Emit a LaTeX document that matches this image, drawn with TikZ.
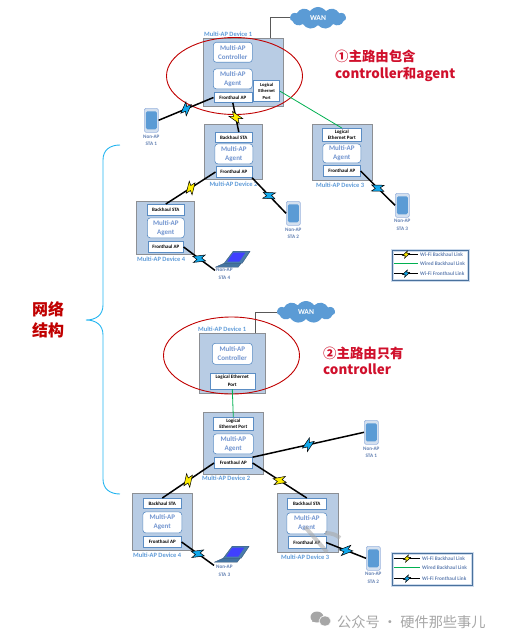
\documentclass[tikz,border=0pt]{standalone}
\usepackage{fontspec}
\setmainfont{Carlito}
\newfontfamily\cjk{Noto Sans CJK SC}
\usepackage{tikz}
\usetikzlibrary{positioning,shapes.geometric,shapes.symbols}

\definecolor{devfill}{HTML}{B8CCE4}
\definecolor{devline}{HTML}{8C8F94}
\definecolor{boxline}{HTML}{5B8DC4}
\definecolor{softblue}{HTML}{7295D0}
\definecolor{labelblue}{HTML}{5F9BD8}
\definecolor{cloudblue}{HTML}{5B9BD5}
\definecolor{ringred}{HTML}{C00000}
\definecolor{notered}{HTML}{D0102C}
\definecolor{wiregray}{HTML}{595959}
\definecolor{wiredgreen}{HTML}{00B050}
\definecolor{boltblue}{HTML}{12A9EC}
\definecolor{boltyellow}{HTML}{FFEE00}
\definecolor{bracecyan}{HTML}{22B4F0}
\definecolor{markgray}{HTML}{A6A6A6}

\tikzset{
  bolt/.pic={
    \filldraw[fill=#1, draw=black, line width=0.5pt, line join=miter]
      (-6.5,-2) -- (2.5,6.5) -- (1.5,2) -- (6.5,2) -- (-2.5,-6.5) -- (-1.5,-2) -- cycle;
  },
}
% wireless link with a bolt half way
\newcommand{\wifilink}[4][1]{
  \draw[radio] (#2) -- (#3) pic[midway, sloped, scale=#1] {bolt=#4};
}

\begin{document}
\begin{tikzpicture}[
  x=1pt, y=1pt,
  device/.style={rectangle, draw=devline, line width=1pt, fill=devfill, inner sep=0pt},
  rolebox/.style={rectangle, draw=boxline, line width=0.6pt, rounded corners=3pt, fill=white, inner sep=0pt,
                  align=center, font=\fontsize{7}{9.2}\selectfont\bfseries, text=softblue},
  portbox/.style={rectangle, draw=boxline, line width=0.6pt, fill=white, inner sep=0pt,
                  align=center, font=\fontsize{5}{6.6}\selectfont\bfseries},
  devlabel/.style={inner sep=0pt, font=\fontsize{6.5}{7}\selectfont\bfseries, text=labelblue},
  stalabel/.style={inner sep=0pt, align=center, font=\fontsize{5.2}{7.6}\selectfont\bfseries, text=softblue!85!black},
  phone/.style={rectangle, draw=softblue!70, line width=0.6pt, rounded corners=1.5pt, fill=devfill!60, inner sep=0pt,
                minimum width=14pt, minimum height=24pt,
                path picture={\fill[cloudblue] ([shift={(1.5pt,3pt)}]path picture bounding box.south west)
                  rectangle ([shift={(-1.5pt,-3pt)}]path picture bounding box.north east);}},
  laptop/.style={rectangle, inner sep=0pt, minimum width=35pt, minimum height=20pt,
                 path picture={
                   \filldraw[fill=cloudblue!80!black, draw=boxline!60!black, line width=0.3pt]
                     ([shift={(9pt,7pt)}]path picture bounding box.south west) -- ++(9,12) -- ++(17,0) -- ++(-8,-12) -- cycle;
                   \fill[blue!75!white]
                     ([shift={(12pt,8.5pt)}]path picture bounding box.south west) -- ++(6,9) -- ++(12,0) -- ++(-6,-9) -- cycle;
                   \filldraw[fill=cloudblue!75!black, draw=boxline!60!black, line width=0.3pt]
                     ([shift={(0pt,3pt)}]path picture bounding box.south west) -- ++(9,4) -- ++(17,0) -- ++(-3,-4) -- cycle;}},
  wan/.style={cloud, cloud puffs=11, cloud puff arc=110, aspect=2.6, fill=cloudblue, inner sep=0pt,
              minimum width=56pt, minimum height=22pt, text=white, font=\fontsize{7.5}{9}\selectfont\bfseries},
  ring/.style={ellipse, draw=ringred, line width=0.9pt, inner sep=0pt, minimum width=136pt, minimum height=77pt},
  note/.style={inner sep=0pt, align=left, text=notered, font=\fontsize{13.4}{16.5}\cjk\bfseries},
  legendbox/.style={rectangle, draw=boxline!80!black, line width=1pt, inner sep=0pt,
                    preaction={draw=devfill!70, line width=2.6pt}},
  legendtext/.style={inner sep=0pt, font=\fontsize{5.3}{6}\selectfont\bfseries, text=softblue!85!black},
  radio/.style={black, line width=1.5pt},
  wire/.style={wiregray, line width=1pt},
  wired/.style={wiredgreen, line width=0.8pt},
]
  \useasboundingbox (0,0) rectangle (504,-642);

  % Upper network: devices
  \node[device, minimum width=80pt, minimum height=68pt, anchor=north west] (devA1) at (203,-38) {};
  \node[device, minimum width=58pt, minimum height=55pt, below right=86pt and 1pt of devA1.north west] (devA2) {};
  \node[device, minimum width=60pt, minimum height=56pt, below right=86pt and 109pt of devA1.north west] (devA3) {};
  \node[device, minimum width=58pt, minimum height=53pt, below right=163pt and -67pt of devA1.north west] (devA4) {};

  \node[devlabel, above right=1.5pt and 1pt of devA1.north west] {Multi-AP Device 1};
  \node[devlabel, below=2pt of devA2.south] {Multi-AP Device 2};
  \node[devlabel, below right=2pt and 4pt of devA3.south west] {Multi-AP Device 3};
  \node[devlabel, below right=2pt and 1pt of devA4.south west] {Multi-AP Device 4};

  % Upper network: boxes inside the devices
  \node[rolebox, minimum width=39pt, minimum height=20pt, below right=4pt and 10pt of devA1.north west] (ctlA1) {Multi-AP\\Controller};
  \node[rolebox, minimum width=39pt, minimum height=20pt, below=6pt of ctlA1] (agtA1) {Multi-AP\\Agent};
  \node[portbox, minimum width=38pt, minimum height=10pt, below=3pt of agtA1] (fhA1) {Fronthaul AP};
  \node[portbox, minimum width=26pt, minimum height=21pt, font=\fontsize{4.6}{6.6}\selectfont\bfseries,
        above left=5pt and 4pt of devA1.south east] (ethA1) {Logical\\Ethernet\\Port};

  \node[portbox, minimum width=37pt, minimum height=10pt, below right=8pt and 11pt of devA2.north west] (bhA2) {Backhaul STA};
  \node[rolebox, minimum width=38pt, minimum height=20pt, below=1pt of bhA2] (agtA2) {Multi-AP\\Agent};
  \node[portbox, minimum width=36pt, minimum height=11pt, below=2pt of agtA2] (fhA2) {Fronthaul AP};

  \node[portbox, minimum width=39pt, minimum height=13pt, below right=4pt and 10pt of devA3.north west] (ethA3) {Logical\\Ethernet Port};
  \node[rolebox, minimum width=38pt, minimum height=19pt, below=2pt of ethA3] (agtA3) {Multi-AP\\Agent};
  \node[portbox, minimum width=37pt, minimum height=11pt, below=2pt of agtA3] (fhA3) {Fronthaul AP};

  \node[portbox, minimum width=37pt, minimum height=11pt, below right=3pt and 11pt of devA4.north west] (bhA4) {Backhaul STA};
  \node[rolebox, minimum width=37pt, minimum height=20pt, below=2pt of bhA4] (agtA4) {Multi-AP\\Agent};
  \node[portbox, minimum width=35pt, minimum height=11pt, below=3pt of agtA4] (fhA4) {Fronthaul AP};

  % Upper network: stations
  \node[phone, below right=70pt and -59pt of devA1.north west] (staA1) {};
  \node[stalabel, below=2pt of staA1] {Non-AP\\STA 1};
  \node[phone, below right=163pt and 83pt of devA1.north west] (staA2) {};
  \node[stalabel, below=2pt of staA2] {Non-AP\\STA 2};
  \node[phone, below right=155pt and 192pt of devA1.north west] (staA3) {};
  \node[stalabel, below=1.5pt of staA3] {Non-AP\\STA 3};
  \node[laptop, below right=212pt and 12pt of devA1.north west] (staA4) {};
  \node[stalabel, below right=-2pt and 1pt of staA4.south west] {Non-AP\\STA 4};

  % Upper network: cloud and ring
  \node[wan, xshift=34pt, yshift=20pt] (wanA) at (devA1.north east) {WAN};
  \draw[wire] ([xshift=27pt]devA1.north) |- (wanA.west);
  \node[ring, xshift=-9pt, yshift=-3.5pt] (ringA) at (devA1.center) {};

  % Upper network: links
  \draw[wired] (ethA1.east) -- (ethA3.north);
  \wifilink{fhA1.west}{staA1.east}{boltblue}
  \wifilink{fhA1.south}{[xshift=5pt]bhA2.north}{boltyellow}
  \wifilink{fhA2.west}{bhA4.north}{boltyellow}
  \wifilink{fhA2.south east}{staA2.west}{boltblue}
  \wifilink{fhA3.east}{staA3.west}{boltblue}
  \wifilink{fhA4.east}{staA4.south west}{boltblue}

  % Upper legend
  \node[legendbox, minimum width=76pt, minimum height=30pt, anchor=north west] (legA) at (392,-250) {};
  \node[legendtext, below right=2.5pt and 28pt of legA.north west] (legtA1) {Wi-Fi Backhaul Link};
  \node[legendtext, below right=11.5pt and 28pt of legA.north west] (legtA2) {Wired Backhaul Link};
  \node[legendtext, below right=21.5pt and 28pt of legA.north west] (legtA3) {Wi-Fi Fronthaul Link};
  \coordinate[left=26pt of legtA1.west] (legsA1);
  \coordinate[left=26pt of legtA2.west] (legsA2);
  \coordinate[left=26pt of legtA3.west] (legsA3);
  \wifilink[0.55]{legsA1}{[xshift=-2pt]legtA1.west}{boltyellow}
  \draw[wired] (legsA2) -- ([xshift=-2pt]legtA2.west);
  \wifilink[0.55]{legsA3}{[xshift=-2pt]legtA3.west}{boltblue}

  % Lower network: devices
  \node[device, minimum width=66pt, minimum height=60pt, below right=295pt and -4pt of devA1.north west] (devB1) {};
  \node[device, minimum width=60pt, minimum height=62pt, below right=79pt and 4pt of devB1.north west] (devB2) {};
  \node[device, minimum width=60pt, minimum height=57pt, below right=160pt and -67pt of devB1.north west] (devB4) {};
  \node[device, minimum width=61pt, minimum height=59pt, below right=160pt and 78pt of devB1.north west] (devB3) {};

  \node[devlabel, above right=1.5pt and -1pt of devB1.north west] {Multi-AP Device 1};
  \node[devlabel, below right=1pt and -1pt of devB2.south west] {Multi-AP Device 2};
  \node[devlabel, below right=2pt and 1pt of devB4.south west] {Multi-AP Device 4};
  \node[devlabel, below right=2pt and 4pt of devB3.south west] {Multi-AP Device 3};

  % Lower network: boxes inside the devices
  \node[rolebox, minimum width=40pt, minimum height=21pt, below right=10pt and 13pt of devB1.north west] (ctlB1) {Multi-AP\\Controller};
  \node[portbox, minimum width=45pt, minimum height=16pt, font=\fontsize{5}{8}\selectfont\bfseries, below=8pt of ctlB1] (ethB1) {Logical Ethernet\\Port};

  \node[portbox, minimum width=40pt, minimum height=13pt, below right=5pt and 10pt of devB2.north west] (ethB2) {Logical\\Ethernet Port};
  \node[rolebox, minimum width=40pt, minimum height=20pt, below=3pt of ethB2] (agtB2) {Multi-AP\\Agent};
  \node[portbox, minimum width=38pt, minimum height=11pt, below=3pt of agtB2] (fhB2) {Fronthaul AP};

  \node[portbox, minimum width=38pt, minimum height=10pt, below right=5pt and 11pt of devB4.north west] (bhB4) {Backhaul STA};
  \node[rolebox, minimum width=39pt, minimum height=21pt, below=3pt of bhB4] (agtB4) {Multi-AP\\Agent};
  \node[portbox, minimum width=38pt, minimum height=11pt, below=3pt of agtB4] (fhB4) {Fronthaul AP};

  \node[portbox, minimum width=39pt, minimum height=11pt, below right=5pt and 10pt of devB3.north west] (bhB3) {Backhaul STA};
  \node[rolebox, minimum width=40pt, minimum height=21pt, below=3pt of bhB3] (agtB3) {Multi-AP\\Agent};
  \node[portbox, minimum width=38pt, minimum height=12pt, below=2pt of agtB3] (fhB3) {Fronthaul AP};

  % Lower network: stations
  \node[phone, below right=87pt and 165pt of devB1.north west] (staB1) {};
  \node[stalabel, below=2pt of staB1] {Non-AP\\STA 1};
  \node[phone, below right=213pt and 167pt of devB1.north west] (staB2) {};
  \node[stalabel, below=1.5pt of staB2] {Non-AP\\STA 2};
  \node[laptop, below right=212pt and 15pt of devB1.north west] (staB3) {};
  \node[stalabel, below right=0pt and 2pt of staB3.south west] {Non-AP\\STA 3};

  % Lower network: cloud and ring
  \node[wan, minimum width=58pt, xshift=40pt, yshift=21pt] (wanB) at (devB1.north east) {WAN};
  \draw[wire] ([xshift=23pt]devB1.north) |- (wanB.west);
  \node[ring, xshift=-1pt, yshift=8pt] (ringB) at (devB1.center) {};

  % Lower network: links
  \draw[wired] (ethB1.south) -- (ethB2.north);
  \wifilink{fhB2.north east}{staB1.west}{boltblue}
  \wifilink{fhB2.west}{bhB4.north}{boltyellow}
  \wifilink{fhB2.east}{bhB3.north}{boltyellow}
  \wifilink{fhB4.east}{staB3.south west}{boltblue}
  \wifilink{fhB3.east}{staB2.west}{boltblue}

  % Lower legend
  \node[legendbox, minimum width=80pt, minimum height=32pt, anchor=north west] (legB) at (392,-553) {};
  \node[legendtext, below right=3.5pt and 30pt of legB.north west] (legtB1) {Wi-Fi Backhaul Link};
  \node[legendtext, below right=12.5pt and 30pt of legB.north west] (legtB2) {Wired Backhaul Link};
  \node[legendtext, below right=23.5pt and 30pt of legB.north west] (legtB3) {Wi-Fi Fronthaul Link};
  \coordinate[left=28pt of legtB1.west] (legsB1);
  \coordinate[left=28pt of legtB2.west] (legsB2);
  \coordinate[left=28pt of legtB3.west] (legsB3);
  \wifilink[0.55]{legsB1}{[xshift=-2pt]legtB1.west}{boltyellow}
  \draw[wired] (legsB2) -- ([xshift=-2pt]legtB2.west);
  \wifilink[0.55]{legsB3}{[xshift=-2pt]legtB3.west}{boltblue}

  % Red notes
  \node[note, anchor=west] (noteA) at (335,-66) {①主路由包含\\controller和agent};
  \node[note, anchor=west] (noteB) at (323,-361) {②主路由只有\\controller};
  \node[note, anchor=west, font=\fontsize{16}{20.5}\cjk\bfseries, text=ringred] (titleNet) at (32,-320) {网络\\结构};

  % Brace over both networks
  \draw[bracecyan, line width=0.9pt] (120,-145) .. controls (110,-145) and (103,-150) .. (103,-160)
    -- (103,-305) .. controls (103,-315) and (96,-320) .. (86,-320)
    .. controls (96,-320) and (103,-325) .. (103,-335)
    -- (103,-479) .. controls (103,-489) and (110,-494) .. (120,-494);

  % Watermark
  \begin{scope}[markgray, opacity=0.55, line width=4pt]
    \draw (305,-527) -- (327,-552);
    \draw (325,-533) .. controls (332,-533) and (337,-535) .. (340,-538);
  \end{scope}
  \fill[markgray] (317,-617) ellipse (6.5 and 5.5);
  \fill[markgray] (312,-622) -- (314,-619) -- (317,-621) -- cycle;
  \filldraw[fill=markgray, draw=white, line width=0.6pt] (325,-621) ellipse (6 and 5);
  \node[inner sep=0pt, anchor=west, text=markgray, font=\fontsize{14.2}{16}\cjk] (markText) at (337,-622) {公众号 · 硬件那些事儿};
\end{tikzpicture}
\end{document}
